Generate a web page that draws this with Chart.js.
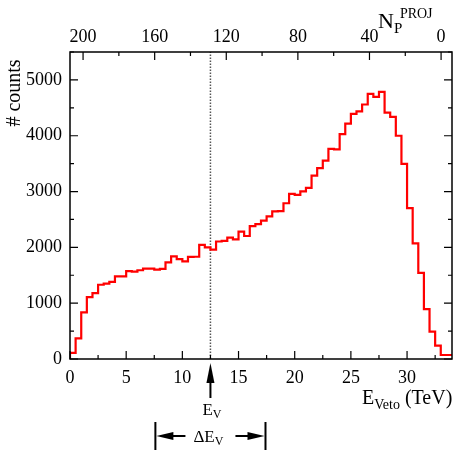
<!DOCTYPE html>
<html>
<head>
<meta charset="utf-8">
<script src="https://cdn.jsdelivr.net/npm/chart.js@4"></script>
<style>
  html, body { margin: 0; padding: 0; background: #fff; }
  #wrap { width: 463px; height: 463px; }
</style>
</head>
<body>
<div id="wrap"><canvas id="vetoChart" width="463" height="463"></canvas></div>
<script>
// histogram of veto energy, 0.5 TeV bins starting at 0
const binStart = 0;
const binWidth = 0.5;
const counts = [
  20, 110, 370, 835, 1110, 1180, 1330, 1350, 1380, 1480,
  1480, 1575, 1565, 1590, 1620, 1620, 1600, 1615, 1730, 1840,
  1790, 1750, 1830, 1832, 2045, 2000, 1958, 2105, 2115, 2175,
  2144, 2282, 2204, 2380, 2418, 2480, 2555, 2643, 2649, 2790,
  2958, 2940, 3003, 3066, 3285, 3418, 3555, 3766, 3754, 4028,
  4216, 4390, 4438, 4559, 4751, 4697, 4787, 4414, 4336, 4000,
  3495, 2703, 2072, 1544, 895, 492, 240, 72
];
const energyTicks = [0, 5, 10, 15, 20, 25, 30];
const countTicks = [0, 1000, 2000, 3000, 4000, 5000];
const nprojTicks = [200, 160, 120, 80, 40, 0];
const vetoEnergy = 12.5;   // E_V
const vetoWidth = 4.9;     // half of Delta E_V

const serif = '"Liberation Serif", "DejaVu Serif", serif';

const points = counts.map((c, i) => ({ x: binStart + i * binWidth, y: c }));
points.push({ x: binStart + counts.length * binWidth, y: counts[counts.length - 1] });

function put(ctx, txt, size, x, y, align) {
  ctx.font = size + "px " + serif;
  ctx.textAlign = align || "left";
  ctx.fillText(txt, x, y);
  return ctx.measureText(txt).width;
}

function arrowHead(ctx, tipX, tipY, dx, dy, len, half) {
  // dx,dy: unit direction the arrow points to
  const bx = tipX - dx * len, by = tipY - dy * len;
  ctx.beginPath();
  ctx.moveTo(tipX, tipY);
  ctx.lineTo(bx - dy * half, by + dx * half);
  ctx.lineTo(bx + dy * half, by - dx * half);
  ctx.closePath();
  ctx.fill();
}

const framePlugin = {
  id: "frame",
  beforeDatasetsDraw(chart) {
    const { ctx, chartArea: a, scales } = chart;
    const xv = scales.x.getPixelForValue(vetoEnergy);
    ctx.save();
    ctx.strokeStyle = "#555";
    ctx.lineWidth = 1.5;
    ctx.setLineDash([1.5, 1.5]);
    ctx.beginPath();
    ctx.moveTo(xv, a.bottom);
    ctx.lineTo(xv, a.top);
    ctx.stroke();
    ctx.restore();
  },
  afterDraw(chart) {
    const { ctx, chartArea: a, scales } = chart;
    const sx = scales.x, sy = scales.y, st = scales.x2;
    ctx.save();
    ctx.strokeStyle = "#000";
    ctx.fillStyle = "#000";
    ctx.lineWidth = 1.5;
    ctx.strokeRect(a.left, a.top, a.right - a.left, a.bottom - a.top);

    ctx.lineWidth = 1.2;
    ctx.beginPath();
    // energy ticks (every 2.5, long at 5)
    for (let v = 0; v <= sx.max; v += 2.5) {
      const px = sx.getPixelForValue(v);
      const len = v % 5 === 0 ? 8 : 4;
      ctx.moveTo(px, a.bottom);
      ctx.lineTo(px, a.bottom - len);
    }
    // count ticks on both sides (every 500, long at 1000)
    for (let v = 0; v <= sy.max; v += 500) {
      const py = sy.getPixelForValue(v);
      const len = v % 1000 === 0 ? 8 : 4;
      ctx.moveTo(a.left, py);
      ctx.lineTo(a.left + len, py);
      ctx.moveTo(a.right, py);
      ctx.lineTo(a.right - len, py);
    }
    // N_P^PROJ ticks (every 20, long at 40)
    for (let v = 0; v <= 200; v += 20) {
      const px = st.getPixelForValue(v);
      const len = v % 40 === 0 ? 8 : 4;
      ctx.moveTo(px, a.top);
      ctx.lineTo(px, a.top + len);
    }
    ctx.stroke();

    // axis titles
    ctx.textBaseline = "alphabetic";
    let x = 362;
    x += put(ctx, "E", 20, x, 404);
    x += put(ctx, "Veto", 14, x, 409);
    put(ctx, " (TeV)", 20, x, 404);

    x = 378;
    x += put(ctx, "N", 22, x, 28);
    put(ctx, "P", 15, x, 33);
    put(ctx, "PROJ", 14, x + 6, 18);

    ctx.save();
    ctx.translate(15, 93);
    ctx.rotate(-Math.PI / 2);
    ctx.textBaseline = "middle";
    put(ctx, "# counts", 20, 0, 0, "center");
    ctx.restore();

    // E_V marker below the axis
    const xv = sx.getPixelForValue(vetoEnergy);
    ctx.lineWidth = 2;
    ctx.beginPath();
    ctx.moveTo(xv, 398);
    ctx.lineTo(xv, 380);
    ctx.stroke();
    arrowHead(ctx, xv, 363, 0, -1, 20, 4);
    ctx.textBaseline = "alphabetic";
    let w = put(ctx, "E", 17, xv - 8, 415);
    put(ctx, "V", 12, xv - 8 + w, 418);

    // Delta E_V bracket
    const xl = sx.getPixelForValue(vetoEnergy - vetoWidth);
    const xr = sx.getPixelForValue(vetoEnergy + vetoWidth);
    const yb = 436;
    ctx.lineWidth = 2;
    ctx.beginPath();
    ctx.moveTo(xl, 422); ctx.lineTo(xl, 450);
    ctx.moveTo(xr, 422); ctx.lineTo(xr, 450);
    ctx.moveTo(xl + 10, yb); ctx.lineTo(xv - 25, yb);
    ctx.moveTo(xv + 25, yb); ctx.lineTo(xr - 10, yb);
    ctx.stroke();
    arrowHead(ctx, xl + 1, yb, -1, 0, 17, 4);
    arrowHead(ctx, xr - 1, yb, 1, 0, 17, 4);
    w = put(ctx, "\u0394E", 17, xv - 17, 442);
    put(ctx, "V", 12, xv - 17 + w, 445);
    ctx.restore();
  }
};

const tickFont = { family: serif, size: 18 };

new Chart(document.getElementById("vetoChart"), {
  type: "line",
  data: {
    datasets: [{
      data: points,
      stepped: "after",
      borderColor: "#ff0000",
      borderWidth: 2.2,
      pointRadius: 0,
      fill: false,
      xAxisID: "x",
      yAxisID: "y"
    }]
  },
  options: {
    responsive: false,
    animation: false,
    devicePixelRatio: 1,
    layout: { padding: { left: 0, right: 11, top: 0, bottom: 0 } },
    plugins: { legend: { display: false }, tooltip: { enabled: false } },
    scales: {
      x: {
        type: "linear",
        position: "bottom",
        min: 0,
        max: 34,
        afterBuildTicks: s => { s.ticks = energyTicks.map(v => ({ value: v })); },
        afterFit: s => { s.height = 104; },
        grid: { display: false, drawTicks: false },
        border: { display: false },
        ticks: { color: "#000", padding: 8, maxRotation: 0, font: tickFont, callback: v => String(v) }
      },
      x2: {
        type: "linear",
        position: "top",
        reverse: true,
        min: -6.1,
        max: 207.3,
        afterBuildTicks: s => { s.ticks = nprojTicks.map(v => ({ value: v })); },
        afterFit: s => { s.height = 52; },
        grid: { display: false, drawTicks: false },
        border: { display: false },
        ticks: { color: "#000", padding: 4, maxRotation: 0, font: tickFont, callback: v => String(v) }
      },
      y: {
        min: 0,
        max: 5500,
        afterBuildTicks: s => { s.ticks = countTicks.map(v => ({ value: v })); },
        afterFit: s => { s.width = 70; },
        grid: { display: false, drawTicks: false },
        border: { display: false },
        ticks: { color: "#000", padding: 8, font: tickFont, callback: v => String(v) }
      }
    }
  },
  plugins: [framePlugin]
});
</script>
</body>
</html>
